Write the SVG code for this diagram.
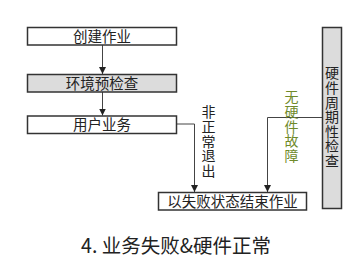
<svg xmlns="http://www.w3.org/2000/svg" width="364" height="267" viewBox="0 0 364 267">
<style>
.box{fill:#fff;stroke:#333;stroke-width:1.5}
.gray{fill:#dcdcdc}
.t{font-family:"Noto Sans CJK SC","Liberation Sans",sans-serif;font-size:14.5px;fill:#222;text-anchor:middle}
.v{font-family:"Noto Sans CJK SC","Liberation Sans",sans-serif;font-size:14px;fill:#222;writing-mode:vertical-rl;text-orientation:upright;letter-spacing:0.6px}
.g{fill:#6f8a2a}
.c{fill:none;stroke:#444;stroke-width:1}
</style>
<defs>
<marker id="ah" markerWidth="8" markerHeight="8" refX="7" refY="4" orient="auto" markerUnits="userSpaceOnUse">
<path d="M0,0.5 L7,4 L0,7.5 Z" fill="#222"/>
</marker>
</defs>
<rect width="364" height="267" fill="#fff"/>
<g id="connectors">
<line class="c" x1="102.5" y1="45" x2="102.5" y2="74" marker-end="url(#ah)"/>
<line class="c" x1="102.5" y1="92" x2="102.5" y2="115.5" marker-end="url(#ah)"/>
<polyline class="c" points="176.5,124 194.5,124 194.5,192" marker-end="url(#ah)"/>
<polyline class="c" points="322.5,117.5 267.5,117.5 267.5,192" marker-end="url(#ah)"/>
</g>
<g id="n1"><rect class="box" x="27.5" y="27.5" width="149" height="17.5"/><text class="t" x="102" y="41.5">创建作业</text></g>
<g id="n2"><rect class="box gray" x="27.5" y="74.5" width="149" height="17.5"/><text class="t" x="102" y="88.5">环境预检查</text></g>
<g id="n3"><rect class="box" x="27.5" y="116" width="149" height="17.5"/><text class="t" x="102" y="130">用户业务</text></g>
<g id="n4"><rect class="box" x="158.5" y="192.5" width="148" height="17.5"/><text class="t" x="232.5" y="206.5">以失败状态结束作业</text></g>
<g id="n5"><rect class="box gray" x="322.5" y="27.5" width="19" height="181"/>
<text class="v" x="332" y="66">硬件周期性检查</text></g>
<g id="l1"><text class="v" x="208.5" y="105">非正常退出</text></g>
<g id="l2"><text class="v g" x="291.5" y="90">无硬件故障</text></g>
<g id="title"><text x="176" y="253" font-family="'Noto Sans CJK SC','Liberation Sans',sans-serif" font-size="19.5" fill="#222" text-anchor="middle">4. 业务失败&amp;硬件正常</text></g>
</svg>
